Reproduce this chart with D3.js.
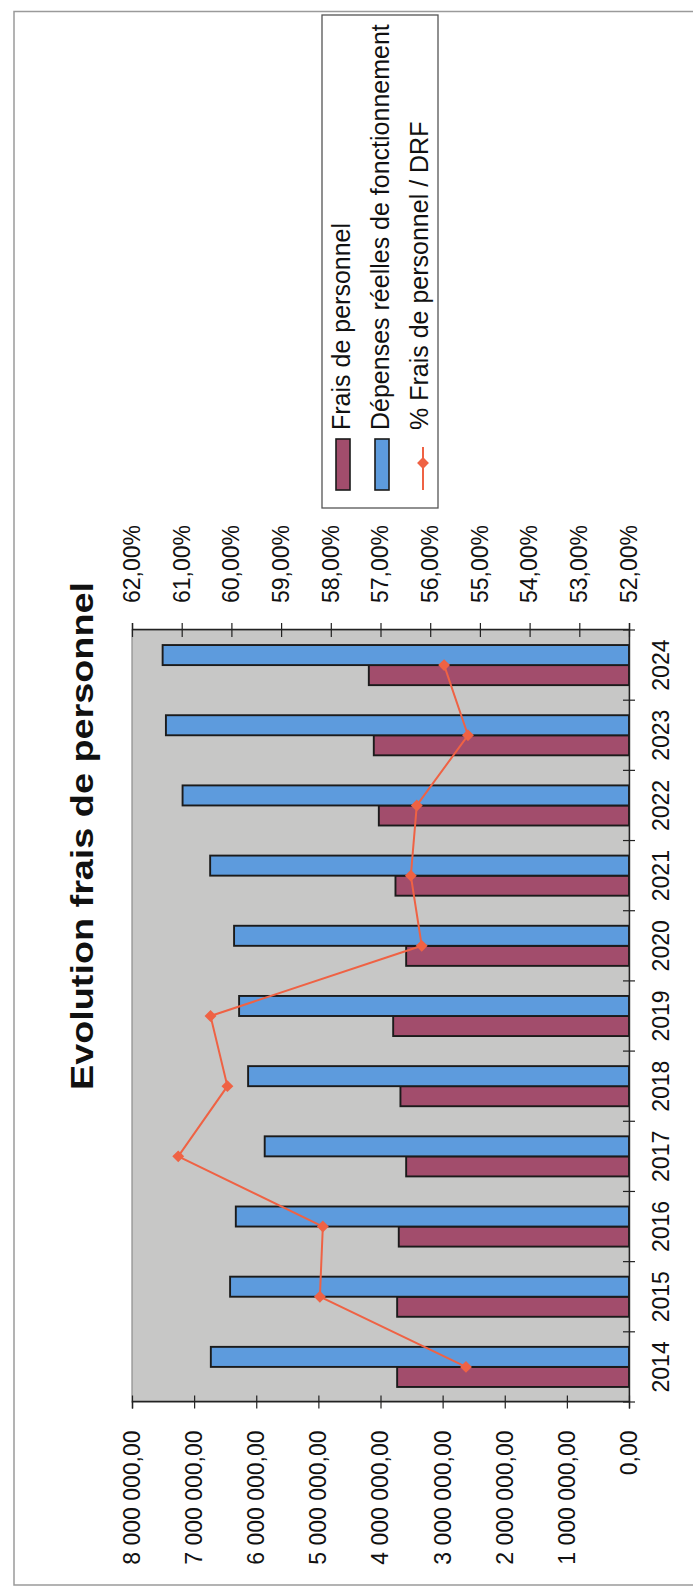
<!DOCTYPE html>
<html>
<head>
<meta charset="utf-8">
<script src="https://cdn.jsdelivr.net/npm/d3@7"></script>
<style>
  html, body { margin: 0; padding: 0; background: #fff; }
  svg { display: block; }
  text { font-family: "Liberation Sans", Arial, sans-serif; fill: #111; }
</style>
</head>
<body>
<svg id="chart" width="693" height="1589"></svg>
<script>
// ---- Data ----
const years = ["2014", "2015", "2016", "2017", "2018", "2019", "2020", "2021", "2022", "2023", "2024"];
const fraisPersonnel = [3732000, 3732000, 3706000, 3587000, 3679000, 3796000, 3587000, 3759000, 4027000, 4108000, 4188000];
const depensesReelles = [6731000, 6421000, 6329000, 5864000, 6131000, 6276000, 6357000, 6742000, 7186000, 7454000, 7507000];
const ratioPct = [55.28, 58.22, 58.16, 61.07, 60.08, 60.42, 56.17, 56.39, 56.27, 55.24, 55.72];
const valueTicks = [0, 1000000, 2000000, 3000000, 4000000, 5000000, 6000000, 7000000, 8000000];
const pctTicks = [52, 53, 54, 55, 56, 57, 58, 59, 60, 61, 62];
const seriesNames = ["Frais de personnel", "Dépenses réelles de fonctionnement", "% Frais de personnel / DRF"];

// ---- Styling ----
const COL_FRAIS = "#a24d6c";
const COL_DRF = "#5d9bdd";
const COL_LINE = "#ef6244";
const COL_PLOT = "#c7c7c6";

// The chart is laid out in a landscape frame, then turned a quarter turn
// so that it reads from bottom to top on the portrait page.
const W = 1589, H = 693;
const svg = d3.select("#chart");
const g = svg.append("g").attr("transform", `translate(0,${W}) rotate(-90)`);

const plot = { left: 187, right: 959, top: 132, bottom: 629 };

const frLocale = d3.formatLocale({ decimal: ",", thousands: "\u00a0", grouping: [3], currency: ["", " €"] });
const fmtValue = frLocale.format(",.2f");
const fmtPct = frLocale.format(".2f");

const x = d3.scaleBand().domain(years).range([plot.left, plot.right]).padding(0);
const xs = d3.scaleBand().domain(["frais", "drf"]).range([0, x.bandwidth()]).paddingInner(0).paddingOuter(0.75);
const y = d3.scaleLinear().domain([0, 8000000]).range([plot.bottom, plot.top]);
const yp = d3.scaleLinear().domain([52, 62]).range([plot.bottom, plot.top]);

// Outer frame
g.append("rect")
  .attr("x", 4).attr("y", 14)
  .attr("width", 1577.5 - 4).attr("height", 720)
  .attr("fill", "none").attr("stroke", "#9a9a9a").attr("stroke-width", 1.5);

// Plot background
g.append("rect")
  .attr("x", plot.left).attr("y", plot.top)
  .attr("width", plot.right - plot.left).attr("height", plot.bottom - plot.top)
  .attr("fill", COL_PLOT).attr("stroke", "#8c8c8c").attr("stroke-width", 1.2);

// Bars
const barData = years.map((yr, i) => ({ year: yr, frais: fraisPersonnel[i], drf: depensesReelles[i] }));
const groups = g.append("g").selectAll("g").data(barData).join("g")
  .attr("transform", d => `translate(${x(d.year)},0)`);
groups.append("rect")
  .attr("x", xs("frais")).attr("width", xs.bandwidth())
  .attr("y", d => y(d.frais)).attr("height", d => y(0) - y(d.frais))
  .attr("fill", COL_FRAIS).attr("stroke", "#1b1b1b").attr("stroke-width", 1.9);
groups.append("rect")
  .attr("x", xs("drf")).attr("width", xs.bandwidth())
  .attr("y", d => y(d.drf)).attr("height", d => y(0) - y(d.drf))
  .attr("fill", COL_DRF).attr("stroke", "#1b1b1b").attr("stroke-width", 1.9);

// Ratio line with diamond markers
const linePts = years.map((yr, i) => [x(yr) + x.bandwidth() / 2, yp(ratioPct[i])]);
g.append("path")
  .attr("d", d3.line()(linePts))
  .attr("fill", "none").attr("stroke", COL_LINE).attr("stroke-width", 2);
g.append("g").selectAll("path").data(linePts).join("path")
  .attr("transform", d => `translate(${d[0]},${d[1]}) rotate(45)`)
  .attr("d", "M-4.2,-4.2H4.2V4.2H-4.2Z")
  .attr("fill", COL_LINE);

// Left value axis
const axLeft = g.append("g").attr("transform", `translate(${plot.left},0)`)
  .call(d3.axisLeft(y).tickValues(valueTicks).tickFormat(fmtValue).tickSize(6.5).tickPadding(22));
axLeft.select(".domain").attr("stroke", "#222").attr("stroke-width", 1.4);
axLeft.selectAll(".tick line").attr("x1", 6.5).attr("x2", -6.5).attr("stroke", "#222").attr("stroke-width", 1.2);
axLeft.selectAll(".tick text").style("font-size", "23px").style("font-family", "Liberation Sans, Arial, sans-serif").attr("fill", "#111");

// Right percentage axis
const axRight = g.append("g").attr("transform", `translate(${plot.right},0)`)
  .call(d3.axisRight(yp).tickValues(pctTicks).tickFormat(d => fmtPct(d) + "%").tickSize(7).tickPadding(20));
axRight.select(".domain").attr("stroke", "#222").attr("stroke-width", 1.4);
axRight.selectAll(".tick line").attr("x1", -7).attr("x2", 7).attr("stroke", "#222").attr("stroke-width", 1.2);
axRight.selectAll(".tick text").style("font-size", "23px").style("font-family", "Liberation Sans, Arial, sans-serif").attr("fill", "#111");

// Category axis
const axBottom = g.append("g").attr("transform", `translate(0,${plot.bottom})`)
  .call(d3.axisBottom(x).tickSize(0).tickPadding(24));
axBottom.select(".domain").attr("stroke", "#222").attr("stroke-width", 1.4);
axBottom.selectAll(".tick text").style("font-size", "23px").style("font-family", "Liberation Sans, Arial, sans-serif").attr("fill", "#111");
const bounds = years.map(yr => x(yr)).concat([x(years[years.length - 1]) + x.bandwidth()]);
axBottom.append("g").selectAll("line").data(bounds).join("line")
  .attr("x1", d => d).attr("x2", d => d).attr("y1", -6).attr("y2", 6)
  .attr("stroke", "#222").attr("stroke-width", 1.2);

// Title
g.append("text")
  .attr("x", 753).attr("y", 93)
  .attr("text-anchor", "middle")
  .style("font-size", "31px").style("font-weight", "bold")
  .attr("textLength", 508).attr("lengthAdjust", "spacingAndGlyphs")
  .text("Evolution frais de personnel");

// Legend
const leg = g.append("g");
leg.append("rect")
  .attr("x", 1081).attr("y", 322).attr("width", 1574 - 1081).attr("height", 116)
  .attr("fill", "#fff").attr("stroke", "#555").attr("stroke-width", 1.3);
const legRows = [
  { name: seriesNames[0], kind: "bar", color: COL_FRAIS, base: 350 },
  { name: seriesNames[1], kind: "bar", color: COL_DRF, base: 389 },
  { name: seriesNames[2], kind: "line", color: COL_LINE, base: 428 }
];
legRows.forEach(r => {
  if (r.kind === "bar") {
    leg.append("rect")
      .attr("x", 1099).attr("y", r.base - 14).attr("width", 51).attr("height", 14)
      .attr("fill", r.color).attr("stroke", "#1b1b1b").attr("stroke-width", 1.6);
  } else {
    leg.append("line")
      .attr("x1", 1099).attr("x2", 1142).attr("y1", r.base - 5).attr("y2", r.base - 5)
      .attr("stroke", r.color).attr("stroke-width", 2);
    leg.append("path")
      .attr("transform", `translate(1126,${r.base - 5}) rotate(45)`)
      .attr("d", "M-4.2,-4.2H4.2V4.2H-4.2Z").attr("fill", r.color);
  }
  leg.append("text")
    .attr("x", 1159).attr("y", r.base)
    .style("font-size", "25px")
    .text(r.name);
});
</script>
</body>
</html>
